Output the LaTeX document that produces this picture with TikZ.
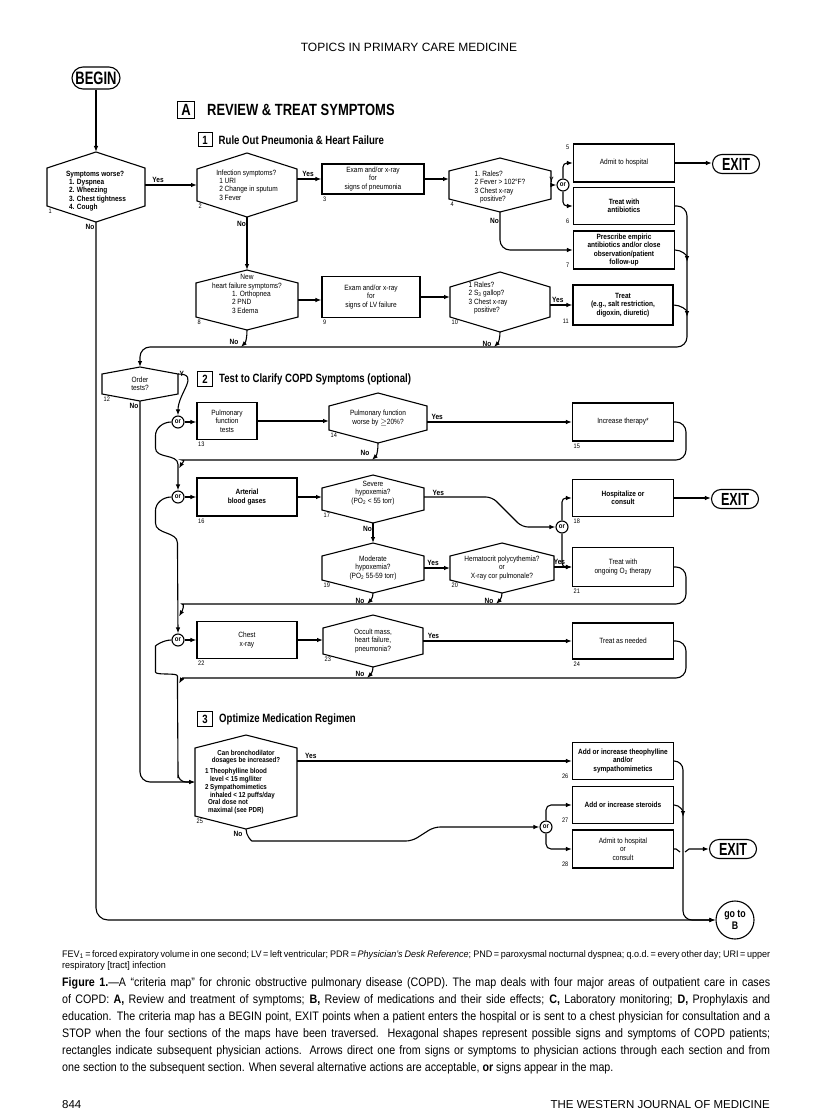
\documentclass[tikz,border=0pt]{standalone}
\usepackage{fontspec}
\setmainfont{Liberation Sans}
\newfontfamily\dgfam[FakeStretch=0.86]{Liberation Sans}
\newfontfamily\hdfam[FakeStretch=0.80]{Liberation Sans}
\newfontfamily\bigfam[FakeStretch=0.72]{Liberation Sans}
\newfontfamily\capfam[FakeStretch=0.87]{Liberation Sans}
\newfontfamily\notefam[FakeStretch=0.95]{Liberation Sans}
\usetikzlibrary{positioning, arrows.meta, shapes.misc, calc}

\newcommand{\dgfont}{\dgfam\fontsize{7.6}{8.4}\selectfont}
\newcommand{\ynfont}{\dgfam\bfseries\fontsize{7.6}{8}\selectfont}
\newcommand{\numfont}{\dgfam\fontsize{6.5}{7}\selectfont}
\newcommand{\orfont}{\dgfam\bfseries\fontsize{7}{7}\selectfont}
\newcommand{\termfont}{\bigfam\bfseries\fontsize{17.5}{17.5}\selectfont}
\newcommand{\secAfont}{\hdfam\bfseries\fontsize{16.2}{16.5}\selectfont}
\newcommand{\secfont}{\hdfam\bfseries\fontsize{12}{12}\selectfont}
\newcommand{\itemline}[2]{\makebox[#1][l]{#2}}

\tikzset{
  actbox/.style={
    draw, line width=1.1pt,
    minimum width=101pt,
    minimum height=38pt,
    inner sep=1pt,
    align=center,
    font=\dgfont
  },
  hextext/.style={inner sep=0pt, align=center, font=\dgfont},
  hexline/.style={line width=1.1pt, line join=miter},
  orbox/.style={circle, draw, line width=1.1pt, minimum size=12pt, inner sep=0pt, font=\orfont},
  endbox/.style={rounded rectangle, draw, line width=1.1pt, minimum width=49pt, minimum height=19pt, inner sep=1pt, font=\termfont},
  flow/.style={line width=1.1pt, -{Latex[length=6pt,width=4.5pt]}},
  lineonly/.style={line width=1.1pt},
  yesno/.style={font=\ynfont, inner sep=0.5pt},
  numlab/.style={font=\numfont, inner sep=0.5pt},
  numbelow/.style={label={[numlab, anchor=north west, xshift=1pt, yshift=-1.5pt]south west:#1}},
  numleft/.style={label={[numlab, anchor=south east, xshift=-3pt, yshift=1pt]south west:#1}},
  numtopleft/.style={label={[numlab, anchor=north east, xshift=-3pt, yshift=-1pt]north west:#1}},
  secbox/.style={draw, line width=1pt, inner sep=0pt, minimum size=#1},
  sectitle/.style={inner sep=0pt}
}

% hexagon: [text opts]{name}{centre}{half width}{half side}{peak}{number}{text}
\newcommand{\hexnode}[8][]{%
  \node[hextext,#1] (#2) at (#3) {#8};
  \coordinate (#2-l) at ($(#3)+(-#4,0)$);
  \coordinate (#2-r) at ($(#3)+(#4,0)$);
  \coordinate (#2-tl) at ($(#3)+(-#4,-#5)$);
  \coordinate (#2-tr) at ($(#3)+(#4,-#5)$);
  \coordinate (#2-bl) at ($(#3)+(-#4,#5)$);
  \coordinate (#2-br) at ($(#3)+(#4,#5)$);
  \coordinate (#2-t) at ($(#3)+(0,-#5-#6)$);
  \coordinate (#2-b) at ($(#3)+(0,#5+#6)$);
  \draw[hexline] (#2-tl) -- (#2-t) -- (#2-tr) -- (#2-br) -- (#2-b) -- (#2-bl) -- cycle;
  \node[numlab, anchor=north west] (#2-n) at ($(#2-bl)+(1,2)$) {#7};
}

\begin{document}
\begin{tikzpicture}[x=1pt, y=-1pt]
  \fill[white] (0,0) rectangle (816,1118);
  \useasboundingbox (0,0) rectangle (816,1118);

  \node[font=\fontsize{12}{12}\selectfont] (head) at (409,47) {TOPICS IN PRIMARY CARE MEDICINE};
  \node[endbox, minimum width=50pt, minimum height=22pt, font=\bigfam\bfseries\fontsize{18}{18}\selectfont] (begin) at (96,78) {BEGIN};

  % section A, part 1
  \node[secbox=17pt, font=\secAfont] (secA) at (186,110) {A};
  \node[sectitle, font=\secAfont, right=12pt of secA] (titleA) {REVIEW \& TREAT SYMPTOMS};
  \node[secbox=14pt, font=\secfont] (sec1) at (205,140) {1};
  \node[sectitle, font=\secfont, right=6pt of sec1] (title1) {Rule Out Pneumonia \& Heart Failure};

  \hexnode[font=\dgfont\bfseries, align=left, yshift=-4pt]{h1}{96,187}{49}{19}{16}{1}{Symptoms worse?\\\hspace*{3pt}1. Dyspnea\\\hspace*{3pt}2. Wheezing\\\hspace*{3pt}3. Chest tightness\\\hspace*{3pt}4. Cough}
  \hexnode[align=left]{h2}{247,185}{50}{16}{16}{2}{Infection symptoms?\\\hspace*{3pt}1 URI\\\hspace*{3pt}2 Change in sputum\\\hspace*{3pt}3 Fever}
  \node[actbox, minimum width=102pt, minimum height=30pt, numbelow=3] (b3) at (373,179) {Exam and/or x-ray\\for\\signs of pneumonia};
  \hexnode[align=left, yshift=-2pt]{h4}{500,185}{51}{14}{13}{4}{1. Rales?\\2 Fever > 102°F?\\3 Chest x-ray\\\phantom{3 }positive?}
  \node[orbox] (or1) at (563,185) {or};
  \node[actbox, numtopleft=5] (b5) at (624,163) {Admit to hospital};
  \node[actbox, font=\dgfont\bfseries, minimum height=37pt, numleft=6] (b6) at (624,206) {Treat with\\antibiotics};
  \node[actbox, font=\dgfont\bfseries, numleft=7] (b7) at (624,250) {Prescribe empiric\\antibiotics and/or close\\observation/patient\\follow-up};
  \node[endbox] (exit1) at (736,164) {EXIT};

  \hexnode[yshift=6pt]{h8}{247,300}{51}{17}{13}{8}{New\\heart failure symptoms?\\\itemline{30pt}{1. Orthopnea}\\\itemline{30pt}{2 PND}\\\itemline{30pt}{3 Edema}}
  \node[actbox, minimum width=98pt, minimum height=41pt, numbelow=9] (b9) at (371,297) {Exam and/or x-ray\\for\\signs of LV failure};
  \hexnode[align=left, xshift=-12pt, yshift=4pt]{h10}{500,302}{50}{15}{15}{10}{1 Rales?\\2 S\textsubscript{3} gallop?\\3 Chest x-ray\\\phantom{3 }positive?}
  \node[actbox, font=\dgfont\bfseries, minimum width=100pt, minimum height=40pt, numleft=11] (b11) at (623,305) {Treat\\(e.g., salt restriction,\\digoxin, diuretic)};
  \coordinate (ret1) at (687,347);

  % part 2
  \hexnode{ord}{140,384}{38}{10}{7}{12}{Order\\tests?}
  \node[secbox=15pt, font=\secfont] (sec2) at (205,379) {2};
  \node[sectitle, font=\secfont, right=6pt of sec2] (title2) {Test to Clarify COPD Symptoms (optional)};

  \node[orbox] (orA) at (178,422) {or};
  \node[actbox, minimum width=60pt, minimum height=37pt, numbelow=13] (b13) at (227,421) {Pulmonary\\function\\tests};
  \hexnode{h14}{378,418}{49}{12}{13}{14}{Pulmonary function\\worse by $\geq$20\%?}
  \node[actbox, numbelow=15] (b15) at (623,422) {Increase therapy*};
  \coordinate (ret2) at (686,460);

  \node[orbox] (orB) at (178,497) {or};
  \node[actbox, font=\dgfont\bfseries, minimum width=100pt, minimum height=38pt, numbelow=16] (b16) at (247,497) {Arterial\\blood gases};
  \hexnode[yshift=6pt]{h17}{373,499}{51}{11}{13}{17}{Severe\\hypoxemia?\\(PO\textsubscript{2} < 55 torr)}
  \node[actbox, font=\dgfont\bfseries, minimum height=37pt, numbelow=18] (b18) at (623,498) {Hospitalize or\\consult};
  \node[endbox] (exit2) at (735,499) {EXIT};
  \node[orbox] (orD) at (562,527) {or};
  \hexnode{h19}{373,568}{51}{12}{13}{19}{Moderate\\hypoxemia?\\(PO\textsubscript{2} 55-59 torr)}
  \hexnode{h20}{502,568}{52}{12}{13}{20}{Hematocrit polycythemia?\\or\\X-ray cor pulmonale?}
  \node[actbox, minimum height=39pt, numbelow=21] (b21) at (623,567) {Treat with\\ongoing O\textsubscript{2} therapy};
  \coordinate (ret3) at (686,604);

  \node[orbox] (orC) at (178,640) {or};
  \node[actbox, minimum width=100pt, minimum height=37pt, numbelow=22] (b22) at (247,640) {Chest\\x-ray};
  \hexnode{h23}{373,641}{50}{13}{13}{23}{Occult mass,\\heart failure,\\pneumonia?}
  \node[actbox, minimum height=36pt, numbelow=24] (b24) at (623,641) {Treat as needed};
  \coordinate (ret4) at (686,678);
  \coordinate (j3) at (178,770);

  % part 3
  \node[secbox=15pt, font=\secfont] (sec3) at (205,719) {3};
  \node[sectitle, font=\secfont, right=6pt of sec3] (title3) {Optimize Medication Regimen};

  \hexnode[font=\dgfam\bfseries\fontsize{7.2}{7.8}\selectfont]{h25}{246,782}{51}{34}{13}{25}{Can bronchodilator\\dosages be increased?\\[3pt]\itemline{82pt}{1 Theophylline blood}\\\itemline{82pt}{\hspace*{5pt}level < 15 mg/liter}\\\itemline{82pt}{2 Sympathomimetics}\\\itemline{82pt}{\hspace*{5pt}inhaled < 12 puffs/day}\\\itemline{82pt}{\hspace*{3pt}Oral dose not}\\\itemline{82pt}{\hspace*{3pt}maximal (see PDR)}}
  \node[actbox, font=\dgfont\bfseries, minimum height=37pt, numleft=26] (b26) at (623,761) {Add or increase theophylline\\and/or\\sympathomimetics};
  \node[actbox, font=\dgfont\bfseries, minimum height=37pt, numleft=27] (b27) at (623,805) {Add or increase steroids};
  \node[actbox, numleft=28] (b28) at (623,849) {Admit to hospital\\or\\consult};
  \node[orbox] (orE) at (546,827) {or};
  \node[endbox] (exit3) at (733,849) {EXIT};
  \node[circle, draw, line width=1.1pt, minimum size=38pt, inner sep=0pt, align=center,
        font=\hdfam\bfseries\fontsize{11}{11.5}\selectfont] (gotoB) at (735,920) {go to\\B};
  \coordinate (jD) at (683,900);

  % connectors, part 1
  \draw[flow] (begin) -- (h1-t);
  \draw[flow] (h1-r |- h2-l) -- node[yesno, pos=0.25, above=1pt]{Yes} (h2-l);
  \draw[flow] (h2-r |- b3.west) -- node[yesno, pos=0.45, above=1pt]{Yes} (b3.west);
  \draw[flow] (b3.east) -- (b3.east -| h4-l);
  \draw[flow] (h4-r) -- node[yesno, pos=0.1, above=1pt]{Y} (or1);
  \draw[flow, rounded corners=4pt] (or1.north) |- (b5.west);
  \draw[flow, rounded corners=4pt] (or1.south) |- (b6.west);
  \draw[flow] (b5.east) -- (b5.east -| exit1.west);
  \draw[flow, rounded corners=10pt] (h4-b) |- node[yesno, pos=0.12, left]{No} (b7.west);
  \draw[flow, rounded corners=10pt] (b6.east) -| (ret1) -| (ord-t);
  \draw[flow] (b7.east) to[out=0,in=90] ($(b7.east -| ret1)+(0,12)$);
  \draw[flow] (b11.east) to[out=0,in=90] ($(b11.east -| ret1)+(0,12)$);
  \draw[flow] (h2-b) -- node[yesno, pos=0.14, left]{No} (h8-t);
  \draw[flow] (h8-r) -- (h8-r -| b9.west);
  \draw[flow] (b9.east) -- (b9.east -| h10-l);
  \draw[flow] (h10-r |- b11.west) -- node[yesno, pos=0.35, above=1pt]{Yes} (b11.west);
  \draw[flow] (h8-b) to[out=-90,in=45] ($(h8-b |- ret1)+(-6,0)$);
  \node[yesno, below left=9pt and 8pt of h8-b] (n8) {No};
  \draw[flow] (h10-b) to[out=-90,in=45] ($(h10-b |- ret1)+(-6,0)$);
  \node[yesno, below left=9pt and 8pt of h10-b] (n10) {No};
  \node[yesno, below left=2pt and 1pt of h1-b] (n1) {No};

  % connectors, part 2
  \draw[flow] (ord-tr) to[out=0,in=90, looseness=1.4] (orA.north);
  \node[yesno, right=1pt of ord-tr] (yOrd) {Y};
  \node[yesno, below left=2pt and 1pt of ord-b] (nOrd) {No};
  \draw[flow] (orA) -- (orA -| b13.west);
  \draw[flow] (b13.east) -- (b13.east -| h14-l);
  \draw[flow] (h14-r |- b15.west) -- node[yesno, pos=0.07, above=1pt]{Yes} (b15.west);
  \draw[flow, rounded corners=10pt] (b15.east) -| (ret2) -- ($(orB.north |- ret2)+(14,0)$) to[out=180,in=60] ($(orB.north)+(1,-22)$);
  \draw[flow] (h14-b) to[out=-90,in=45] ($(h14-b |- ret2)+(-6,0)$);
  \node[yesno, below left=7pt and 8pt of h14-b] (n14) {No};
  \draw[flow] (orA.west) to[out=180,in=90] ++(-16,14) -- ++(0,12) to[out=-90,in=90] ($(orB.north)+(0,-26)$) -- (orB.north);

  \draw[flow] (orB) -- (orB -| b16.west);
  \draw[flow] (b16.east) -- (b16.east -| h17-l);
  \draw[flow, rounded corners=6pt] (h17-r |- b16.east) -- ++(68,0) -- ++(30,30) -- (orD);
  \node[yesno, anchor=south west] (y17) at ($(h17-r |- b16.east)+(8,-1)$) {Yes};
  \draw[flow, rounded corners=4pt] (orD.north) |- (b18.west);
  \draw[flow, rounded corners=4pt] (orD.south) |- (b21.west);
  \draw[flow] (b18.east) -- (b18.east -| exit2.west);
  \draw[flow] (h17-b) -- node[yesno, pos=0.3, left]{No} (h19-t);
  \draw[flow] (h19-r) -- node[yesno, pos=0.35, above=1pt]{Yes} (h20-l);
  \draw[flow] (h20-r |- b21.west) -- node[yesno, pos=0.3, above=1pt]{Yes} (b21.west);
  \draw[flow, rounded corners=10pt] (b21.east) -| (ret3) -- ($(orC.north |- ret3)+(14,0)$) to[out=180,in=60] ($(orC.north)+(1,-17)$);
  \draw[flow] (h19-b) to[out=-90,in=45] ($(h19-b |- ret3)+(-6,0)$);
  \node[yesno, below left=5pt and 8pt of h19-b] (n19) {No};
  \draw[flow] (h20-b) to[out=-90,in=45] ($(h20-b |- ret3)+(-6,0)$);
  \node[yesno, below left=5pt and 8pt of h20-b] (n20) {No};
  \draw[flow] (orB.west) to[out=180,in=90] ++(-16,14) -- ++(0,12) to[out=-90,in=90] ++(22,20) -- (orC.north);

  \draw[flow] (orC) -- (orC -| b22.west);
  \draw[flow] (b22.east) -- (b22.east -| h23-l);
  \draw[flow] (h23-r |- b24.west) -- node[yesno, pos=0.07, above=1pt]{Yes} (b24.west);
  \draw[flow, rounded corners=10pt] (b24.east) -| (ret4) -- ($(j3 |- ret4)+(14,0)$) to[out=180,in=60] ($(orC.south)+(1,37)$);
  \draw[flow] (h23-b) to[out=-90,in=45] ($(h23-b |- ret4)+(-6,0)$);
  \node[yesno, below left=4pt and 8pt of h23-b] (n23) {No};
  \draw[flow, rounded corners=8pt] (orC.west) to[out=180,in=90] ++(-16,14) -- ++(0,10) to[out=-90,in=90] ++(22,20) -- (j3) |- (h25-l);

  % connectors, part 3
  \draw[flow, rounded corners=10pt] (ord-b) |- (h25-l);
  \draw[flow] (h25-r |- b26.west) -- node[yesno, pos=0.05, above=1pt]{Yes} (b26.west);
  \draw[flow, rounded corners=6pt] (h25-b) to[out=-90,in=180] ++(12,12) -- ++(154,0) -- ++(22,-14) -- (orE);
  \node[yesno, below left=2pt and 3pt of h25-b] (n25) {No};
  \draw[flow, rounded corners=5pt] (orE.north) |- (b27.west);
  \draw[flow, rounded corners=5pt] (orE.south) |- (b28.west);
  \draw[flow, rounded corners=9pt] (b26.east) -| (jD) |- (gotoB.west);
  \draw[flow] (b27.east) to[out=0,in=90] ($(b27.east -| jD)+(0,12)$);
  \draw[flow] (b28.east) -- ++(2,0) -- ++(4,3) ++(5,0) -- ++(4,-3) -- (exit3.west);
  \draw[flow, rounded corners=12pt] (h1-b) |- (gotoB.west);

  % notes under the map
  \node[anchor=north west, inner sep=0pt, align=left, font=\notefam\fontsize{9.5}{11}\selectfont] (abbr) at (62,950)
    {\makebox[708pt][s]{FEV\textsubscript{1}\,=\,forced expiratory volume in one second; LV\,=\,left ventricular; PDR\,=\,\textit{Physician’s Desk Reference}; PND\,=\,paroxysmal nocturnal dyspnea; q.o.d.\,=\,every other day; URI\,=\,upper}\\respiratory [tract] infection};
  \node[anchor=north west, inner sep=0pt, align=left, font=\capfam\fontsize{12.3}{17}\selectfont] (capt) at (62,977)
    {\makebox[708pt][s]{\textbf{Figure 1.}—A “criteria map” for chronic obstructive pulmonary disease (COPD). The map deals with four major areas of outpatient care in cases}\\
     \makebox[708pt][s]{of COPD: \textbf{A,} Review and treatment of symptoms; \textbf{B,} Review of medications and their side effects; \textbf{C,} Laboratory monitoring; \textbf{D,} Prophylaxis and}\\
     \makebox[708pt][s]{education. The criteria map has a BEGIN point, EXIT points when a patient enters the hospital or is sent to a chest physician for consultation and a}\\
     \makebox[708pt][s]{STOP when the four sections of the maps have been traversed. Hexagonal shapes represent possible signs and symptoms of COPD patients;}\\
     \makebox[708pt][s]{rectangles indicate subsequent physician actions. Arrows direct one from signs or symptoms to physician actions through each section and from}\\
     one section to the subsequent section. When several alternative actions are acceptable, \textbf{or} signs appear in the map.};
  \node[anchor=base west, inner sep=0pt, font=\fontsize{11.5}{12}\selectfont] (pageno) at (62,1108) {844};
  \node[anchor=base east, inner sep=0pt, font=\fontsize{11.5}{12}\selectfont] (journal) at (770,1108) {THE WESTERN JOURNAL OF MEDICINE};
\end{tikzpicture}
\end{document}
